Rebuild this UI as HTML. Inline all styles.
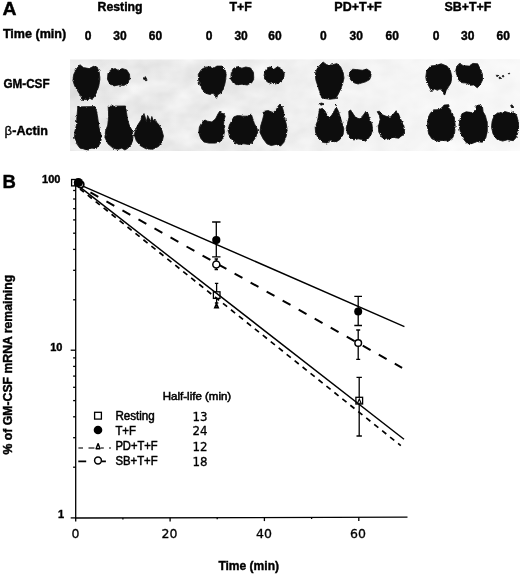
<!DOCTYPE html>
<html><head><meta charset="utf-8"><title>Figure</title>
<style>
html,body{margin:0;padding:0;background:#fff;}
body{width:520px;height:574px;overflow:hidden;font-family:"Liberation Sans",sans-serif;}
svg{display:block;}
text{font-family:"Liberation Sans",sans-serif;fill:#000;stroke:#000;stroke-width:0.35;}
.b{font-weight:bold;stroke-width:0.4;}
.d{font-family:"DejaVu Sans","Liberation Sans",sans-serif;stroke-width:0.3;}
.l{stroke-width:0.5;}
</style></head><body>
<svg width="520" height="574" viewBox="0 0 520 574">
<defs>
<linearGradient id="bg" x1="0" x2="1" y1="0" y2="0">
<stop offset="0" stop-color="#ebebeb"/><stop offset="0.45" stop-color="#f0f0f0"/><stop offset="0.75" stop-color="#f6f6f6"/><stop offset="1" stop-color="#f8f8f8"/>
</linearGradient>
<filter id="mott" x="0" y="0" width="100%" height="100%" color-interpolation-filters="sRGB"><feTurbulence type="fractalNoise" baseFrequency="0.035 0.05" numOctaves="3" seed="11"/><feColorMatrix type="matrix" values="0.14 0 0 0 0.845  0.14 0 0 0 0.845  0.14 0 0 0 0.845  0 0 0 0 1"/><feComposite operator="in" in2="SourceGraphic"/></filter>
<linearGradient id="fade" x1="0" x2="1" y1="0" y2="0"><stop offset="0" stop-color="#fff" stop-opacity="0"/><stop offset="0.4" stop-color="#fff" stop-opacity="0.15"/><stop offset="0.75" stop-color="#fff" stop-opacity="0.55"/><stop offset="1" stop-color="#fff" stop-opacity="0.65"/></linearGradient>
<filter id="soft" x="-2%" y="-5%" width="104%" height="110%"><feTurbulence type="fractalNoise" baseFrequency="0.35" numOctaves="2" seed="7" result="n"/><feDisplacementMap in="SourceGraphic" in2="n" scale="2.6" xChannelSelector="R" yChannelSelector="G"/><feGaussianBlur stdDeviation="0.4"/></filter>
</defs>
<rect width="520" height="574" fill="#fff"/>

<rect x="70" y="59.5" width="450" height="91.5" fill="#eaeaea" filter="url(#mott)"/>
<rect x="70" y="59.5" width="450" height="91.5" fill="url(#fade)"/>
<g fill="#0a0a0a" stroke="#0a0a0a" stroke-width="0.8" stroke-linejoin="round" filter="url(#soft)">
<path d="M73.8 74.3 L76.7 68.6 L79.9 64.7 L83.4 67.6 L89.2 68.6 L94.0 66.1 L97.2 67.2 L99.3 72.4 L99.9 79.2 L98.8 85.9 L96.8 91.7 L94.5 96.5 L92.0 99.3 L89.5 98.2 L87.2 100.9 L84.9 99.1 L83.0 100.9 L80.5 95.5 L77.6 90.7 L74.7 85.9 L72.8 80.1Z"/>
<path d="M108.0 73.4 L110.7 69.9 L115.1 68.6 L118.4 70.5 L122.2 68.6 L126.7 69.9 L129.5 74.3 L129.9 79.2 L128.0 83.0 L123.8 85.5 L118.4 84.9 L114.2 85.9 L109.9 84.0 L107.4 79.2Z"/>
<path d="M145.3 76.6 L147.0 79.6 L143.8 79.6Z"/>
<path d="M77.8 106.9 L94.9 106.5 L97.0 112.5 L98.0 120.0 L99.0 127.5 L100.8 133.8 L101.1 140.0 L99.2 145.0 L96.1 148.8 L91.8 148.1 L88.6 150.0 L84.2 149.4 L79.9 148.1 L76.8 143.8 L74.5 137.5 L74.9 131.2 L76.5 125.0 L77.0 116.2Z"/>
<path d="M108.2 106.2 L125.5 106.0 L126.5 112.5 L127.4 118.8 L129.2 125.0 L132.4 131.2 L133.0 137.5 L131.8 143.8 L128.0 148.1 L124.9 150.0 L121.8 148.1 L118.0 149.4 L113.0 148.1 L108.0 143.8 L104.9 137.5 L105.5 131.2 L107.8 125.0 L108.6 116.2Z"/>
<path d="M142.0 115.7 L144.0 113.6 L145.3 117.6 L146.5 121.5 L147.6 115.5 L149.2 118.6 L150.3 122.5 L151.8 116.5 L153.4 121.0 L154.9 119.0 L156.8 122.4 L159.3 125.3 L161.8 130.1 L163.4 135.9 L162.2 141.7 L158.4 146.5 L152.6 149.3 L145.9 148.8 L140.1 145.5 L136.3 140.7 L134.3 134.9 L135.7 129.2 L138.2 124.3 L140.7 120.5Z"/>
<path d="M201.5 69.5 L205.4 67.2 L211.2 66.7 L214.0 68.0 L216.9 66.1 L221.7 66.1 L224.6 68.6 L226.2 73.4 L225.8 79.2 L224.6 84.9 L222.7 89.7 L220.8 93.6 L217.9 94.5 L216.5 98.3 L214.6 95.5 L213.1 92.6 L210.2 94.5 L206.0 93.4 L202.6 90.0 L200.2 85.5 L198.6 80.3 L198.3 74.3Z"/>
<path d="M231.3 72.4 L233.3 68.6 L237.1 66.7 L241.9 68.2 L245.8 67.0 L250.6 68.0 L253.5 72.4 L253.8 79.2 L251.5 83.0 L246.7 84.9 L241.9 84.2 L237.1 84.9 L233.3 83.0 L230.8 79.2Z"/>
<path d="M264.6 72.4 L266.9 68.0 L270.8 66.7 L273.7 69.6 L277.5 66.7 L281.3 68.6 L284.2 73.4 L283.8 78.2 L280.4 82.0 L275.6 84.0 L271.7 82.0 L268.8 83.0 L265.4 80.1 L264.0 76.3Z"/>
<path d="M205.0 120.0 L207.5 121.2 L211.9 121.9 L215.6 118.8 L218.1 113.8 L219.8 111.2 L221.2 113.1 L223.8 113.8 L225.2 116.2 L224.0 120.0 L223.5 125.0 L224.4 131.2 L223.5 137.5 L220.0 141.9 L215.0 143.1 L208.8 143.1 L203.8 141.9 L200.6 138.1 L198.8 132.5 L199.4 126.9 L201.9 122.5Z"/>
<path d="M233.8 116.9 L237.5 115.6 L242.5 116.2 L247.5 116.2 L251.2 114.0 L252.8 118.8 L254.4 123.8 L256.9 128.1 L257.8 131.9 L255.6 137.5 L252.5 141.9 L248.8 144.4 L243.8 143.8 L238.8 144.4 L233.8 141.9 L230.0 136.9 L228.1 130.6 L229.4 125.0 L231.9 120.6Z"/>
<path d="M264.4 111.2 L268.1 110.6 L273.1 112.5 L276.2 110.0 L278.1 106.2 L280.0 104.0 L281.9 106.2 L283.5 111.2 L284.4 117.5 L286.2 123.8 L287.2 130.0 L286.2 136.2 L283.8 142.5 L280.6 146.0 L276.2 144.4 L271.2 145.6 L266.9 143.8 L263.1 138.8 L260.0 132.5 L260.6 126.2 L262.5 120.0 L263.8 115.0Z"/>
<path d="M319.4 65.5 L323.1 62.0 L326.9 64.9 L331.9 64.9 L336.9 63.6 L340.6 66.8 L343.1 72.4 L344.0 78.0 L342.5 84.2 L340.0 90.5 L337.5 95.5 L335.6 98.6 L330.0 99.2 L325.0 98.6 L321.9 98.0 L320.0 93.0 L318.1 86.8 L316.0 80.5 L315.2 74.2 L316.9 69.2Z"/>
<path d="M349.8 72.4 L352.6 69.2 L357.5 69.7 L362.5 70.3 L366.9 69.0 L370.4 71.5 L371.2 75.5 L369.6 79.6 L365.6 81.8 L361.6 83.0 L358.1 84.0 L354.2 82.8 L350.9 80.2 L349.2 76.1Z"/>
<path d="M320.6 109.0 L322.4 108.3 L325.0 111.0 L326.9 115.0 L329.4 117.5 L331.9 115.0 L334.4 110.5 L336.2 107.0 L338.1 110.5 L340.0 116.2 L341.9 122.5 L343.8 128.8 L343.1 134.4 L340.0 139.4 L336.2 141.9 L331.2 141.2 L326.2 143.1 L321.9 141.9 L318.1 138.1 L315.6 132.5 L315.2 126.9 L317.5 121.2 L318.5 115.0 L319.4 108.8Z"/>
<path d="M348.8 111.2 L350.6 110.0 L353.1 113.8 L355.6 117.5 L359.4 118.8 L362.5 116.2 L366.2 111.0 L368.1 113.8 L369.4 118.8 L371.9 123.8 L372.5 129.4 L371.2 134.4 L368.1 138.8 L365.6 141.2 L361.9 139.4 L358.1 138.8 L353.8 140.0 L350.0 137.5 L347.2 133.1 L346.2 128.1 L347.5 123.1 L349.0 117.5Z"/>
<path d="M377.2 111.7 L379.4 111.2 L381.9 114.6 L386.1 116.3 L390.3 117.1 L393.7 113.7 L396.2 110.7 L398.4 113.7 L400.5 118.8 L403.5 124.7 L404.7 129.8 L403.0 134.9 L398.8 138.2 L392.9 137.4 L387.0 139.4 L381.9 137.4 L378.9 132.3 L378.2 125.6 L380.2 119.7 L379.4 115.4Z"/>
<path d="M425.8 77.2 L426.7 70.5 L430.6 66.1 L436.3 65.3 L441.2 63.8 L446.9 66.1 L450.4 70.5 L451.9 77.2 L450.8 83.0 L448.5 86.8 L446.0 90.7 L444.6 95.5 L442.7 91.7 L440.2 88.8 L437.3 90.3 L434.4 88.8 L431.9 91.7 L429.2 86.8 L426.7 82.0Z"/>
<path d="M456.5 66.7 L459.4 63.4 L463.3 65.7 L469.0 66.1 L472.9 63.4 L477.7 63.8 L480.0 68.6 L482.5 74.3 L482.5 80.1 L480.0 84.9 L477.3 87.8 L473.8 84.9 L470.0 85.3 L466.2 83.0 L461.3 82.6 L458.1 79.2 L456.5 74.3 L455.8 69.5Z"/>
<path d="M428.1 117.6 L430.6 112.8 L434.4 109.9 L439.2 109.5 L442.7 107.0 L444.0 105.1 L448.8 104.7 L449.2 108.4 L451.7 111.8 L454.2 117.6 L455.2 125.3 L454.6 133.0 L452.7 137.8 L448.8 141.1 L443.1 140.3 L437.3 141.1 L431.9 138.8 L428.7 134.0 L427.3 126.3Z"/>
<path d="M460.0 119.5 L461.9 113.8 L466.2 111.8 L471.9 112.6 L475.8 109.9 L476.2 106.1 L480.0 104.5 L482.5 107.0 L483.1 111.8 L485.4 115.7 L487.3 123.4 L487.3 131.1 L485.8 137.8 L482.5 142.2 L476.7 141.7 L471.9 143.6 L467.1 143.6 L463.3 138.8 L460.4 132.0 L459.0 125.3Z"/>
<path d="M492.1 121.5 L494.0 115.7 L497.9 112.8 L501.7 113.8 L504.6 111.5 L509.4 112.8 L513.8 111.8 L516.7 115.7 L518.5 122.4 L518.5 130.1 L516.7 136.8 L513.3 140.7 L507.5 139.7 L502.7 141.1 L496.9 139.3 L493.1 134.0 L491.5 127.2Z"/>
<circle cx="497.2" cy="75.7" r="0.8"/>
<circle cx="499.8" cy="77.9" r="0.8"/>
<circle cx="503.1" cy="76.2" r="0.8"/>
<circle cx="509.0" cy="73.5" r="0.6"/>
<circle cx="511.6" cy="105.8" r="0.9"/>
<circle cx="512.6" cy="107.2" r="1.0"/>
<circle cx="321.2" cy="104.1" r="1.1"/>
<circle cx="322.9" cy="104.0" r="0.8"/>
<circle cx="335.6" cy="105.5" r="0.7"/>
</g>
<text x="2.6" y="15.4" font-size="18" textLength="14.0" lengthAdjust="spacingAndGlyphs" class="b">A</text>
<text x="2.9" y="38.2" font-size="12" textLength="63.3" lengthAdjust="spacingAndGlyphs" class="b">Time (min)</text>
<text x="97.6" y="10.8" font-size="12" textLength="45.0" lengthAdjust="spacingAndGlyphs" class="b">Resting</text>
<text x="229.4" y="10.8" font-size="12" textLength="22.3" lengthAdjust="spacingAndGlyphs" class="b">T+F</text>
<text x="334.3" y="10.8" font-size="12" textLength="47.4" lengthAdjust="spacingAndGlyphs" class="b">PD+T+F</text>
<text x="444.6" y="10.8" font-size="12" textLength="46.8" lengthAdjust="spacingAndGlyphs" class="b">SB+T+F</text>
<text x="88.1" y="39.9" font-size="12" text-anchor="middle" class="b">0</text>
<text x="119.9" y="39.9" font-size="12" text-anchor="middle" class="b">30</text>
<text x="155.4" y="39.9" font-size="12" text-anchor="middle" class="b">60</text>
<text x="209.2" y="39.9" font-size="12" text-anchor="middle" class="b">0</text>
<text x="241.1" y="39.9" font-size="12" text-anchor="middle" class="b">30</text>
<text x="274.9" y="39.9" font-size="12" text-anchor="middle" class="b">60</text>
<text x="323.3" y="39.9" font-size="12" text-anchor="middle" class="b">0</text>
<text x="356.3" y="39.9" font-size="12" text-anchor="middle" class="b">30</text>
<text x="392.3" y="39.9" font-size="12" text-anchor="middle" class="b">60</text>
<text x="436.1" y="39.9" font-size="12" text-anchor="middle" class="b">0</text>
<text x="467.8" y="39.9" font-size="12" text-anchor="middle" class="b">30</text>
<text x="503.3" y="39.9" font-size="12" text-anchor="middle" class="b">60</text>
<text x="3.4" y="87.5" font-size="12" textLength="46.2" lengthAdjust="spacingAndGlyphs" class="b">GM-CSF</text>
<text x="4.6" y="134.6" font-size="13">β</text>
<text x="12.3" y="134.6" font-size="12" textLength="35.6" lengthAdjust="spacingAndGlyphs" class="b">-Actin</text>
<text x="2.6" y="187.5" font-size="18.5" class="b">B</text>
<text x="60.4" y="183.2" font-size="11" text-anchor="end" class="b">100</text>
<text x="62.4" y="350.6" font-size="11" text-anchor="end" class="b">10</text>
<text x="64.0" y="518.2" font-size="11" text-anchor="end" class="b">1</text>
<text transform="translate(11.5,454.4) rotate(-90)" font-size="12" class="b" textLength="179.6" lengthAdjust="spacingAndGlyphs">% of GM-CSF mRNA remaining</text>
<text x="218.4" y="570.0" font-size="12" textLength="60.6" lengthAdjust="spacingAndGlyphs" class="b">Time (min)</text>
<text x="75.6" y="538.0" font-size="12.5" text-anchor="middle" class="d">0</text>
<text x="169.5" y="538.0" font-size="12.5" text-anchor="middle" class="d">20</text>
<text x="264.0" y="538.0" font-size="12.5" text-anchor="middle" class="d">40</text>
<text x="358.0" y="538.0" font-size="12.5" text-anchor="middle" class="d">60</text>
<g stroke="#000" stroke-width="1.3" fill="none">
<path d="M75.7 181.8 V518 L407.5 517.2"/>
<path d="M75.7 190.5 h-2.6"/>
<path d="M75.7 199.0 h-2.6"/>
<path d="M75.7 208.7 h-2.6"/>
<path d="M75.7 219.9 h-2.6"/>
<path d="M75.7 233.2 h-2.6"/>
<path d="M75.7 249.4 h-2.6"/>
<path d="M75.7 270.3 h-2.6"/>
<path d="M75.7 299.8 h-2.6"/>
<path d="M75.7 357.9 h-2.6"/>
<path d="M75.7 366.4 h-2.6"/>
<path d="M75.7 376.1 h-2.6"/>
<path d="M75.7 387.3 h-2.6"/>
<path d="M75.7 400.6 h-2.6"/>
<path d="M75.7 416.8 h-2.6"/>
<path d="M75.7 437.7 h-2.6"/>
<path d="M75.7 467.2 h-2.6"/>
<path d="M75.7 350.2 h-5"/>
<path d="M75.7 517.9 h-5"/>
<path d="M75.7 518.0 v3.6"/>
<path d="M122.9 517.9 v1.6"/>
<path d="M170.1 517.8 v3.6"/>
<path d="M217.2 517.7 v1.6"/>
<path d="M264.4 517.5 v3.6"/>
<path d="M311.6 517.4 v1.6"/>
<path d="M358.8 517.3 v3.6"/>
</g>
<path d="M216.3 222.0 V256.9 M212.1 222.0 h8.4 M212.1 256.9 h8.4" stroke="#000" stroke-width="1.3" fill="none"/>
<path d="M216.3 259.0 V269.6 M214.6 259.0 h3.4 M214.6 269.6 h3.4" stroke="#000" stroke-width="1.3" fill="none"/>
<path d="M216.6 283.4 V303.0 M214.9 283.4 h3.4 M214.9 303.0 h3.4" stroke="#000" stroke-width="1.3" fill="none"/>
<path d="M358.2 296.4 V325.5 M354.3 296.4 h7.7 M354.3 325.5 h7.7" stroke="#000" stroke-width="1.3" fill="none"/>
<path d="M358.2 330.0 V359.3 M356.2 330.0 h4.0 M356.2 359.3 h4.0" stroke="#000" stroke-width="1.3" fill="none"/>
<path d="M359.2 377.3 V436.0 M356.5 377.3 h5.4 M356.5 436.0 h5.4" stroke="#000" stroke-width="1.3" fill="none"/>
<rect x="71.6" y="179.5" width="6.4" height="6.4" fill="#fff" stroke="#000" stroke-width="1.3"/>
<rect x="213.4" y="291.8" width="6.6" height="6.6" fill="#fff" stroke="#000" stroke-width="1.3"/>
<rect x="355.9" y="397.3" width="6.7" height="6.7" fill="#fff" stroke="#000" stroke-width="1.3"/>
<g stroke="#000" fill="none" stroke-linecap="butt">
<path d="M80 184.9 L404.4 326.6" stroke-width="1.45"/>
<path d="M80 187.1 L404 439.2" stroke-width="1.45"/>
<path d="M84 188.8 L402.1 367.8" stroke-width="2.0" stroke-dasharray="9 9.38" stroke-dashoffset="11.0"/>
<path d="M80 189 L400.8 445.6" stroke-width="1.7" stroke-dasharray="5.3 4.89" stroke-dashoffset="0.3"/>
</g>
<path d="M76.5 180.9 L78.5 185.1 L74.5 185.1 Z" fill="#fff" stroke="#000" stroke-width="1.3" stroke-linejoin="miter"/>
<circle cx="80.6" cy="184.6" r="3.2" fill="#fff" stroke="#000" stroke-width="1.7"/>
<circle cx="78.4" cy="182.5" r="4.6" fill="#000"/>
<circle cx="216.3" cy="240.1" r="4.1" fill="#000"/>
<circle cx="216.3" cy="264.5" r="3.5" fill="#fff" stroke="#000" stroke-width="1.5"/>
<path d="M216.5 303.8 L218.2 307.6 L214.8 307.6 Z" fill="#888" stroke="#000" stroke-width="1.6" stroke-linejoin="miter"/>
<circle cx="358.2" cy="311.5" r="4.0" fill="#000"/>
<circle cx="358.2" cy="343.0" r="3.3" fill="#fff" stroke="#000" stroke-width="1.5"/>
<path d="M359.3 399.0 L361.1 403.2 L357.5 403.2 Z" fill="#fff" stroke="#000" stroke-width="1.1" stroke-linejoin="miter"/>
<rect x="94.6" y="412.3" width="6.8" height="6.8" fill="#fff" stroke="#000" stroke-width="1.3"/>
<circle cx="98.0" cy="430.0" r="4.3" fill="#000"/>
<path d="M78.4 448 H83 M88.5 448 H94.4 M100.8 448 H103.8 M109.1 448 H110.9" stroke="#444" stroke-width="1.3" fill="none"/>
<path d="M98.1 443.6 L100.0 448.7 L96.1 448.7 Z" fill="#fff" stroke="#000" stroke-width="1.4" stroke-linejoin="round"/>
<path d="M78.3 461.4 H86.2 M101.5 461.4 H105.9" stroke="#000" stroke-width="1.6" fill="none"/>
<circle cx="98.0" cy="460.5" r="3.4" fill="#fff" stroke="#000" stroke-width="1.5"/>
<text x="115.4" y="419.6" font-size="12" textLength="39.4" lengthAdjust="spacingAndGlyphs" class="l">Resting</text>
<text x="115.4" y="434.6" font-size="12" textLength="20.5" lengthAdjust="spacingAndGlyphs" class="l">T+F</text>
<text x="115.4" y="450.0" font-size="12" textLength="42.2" lengthAdjust="spacingAndGlyphs" class="l">PD+T+F</text>
<text x="115.4" y="464.8" font-size="12" textLength="42.2" lengthAdjust="spacingAndGlyphs" class="l">SB+T+F</text>
<text x="162.8" y="400.2" font-size="10.5" textLength="68.4" lengthAdjust="spacingAndGlyphs" class="l">Half-life (min)</text>
<text x="200.0" y="420.5" font-size="11.8" text-anchor="middle" class="d">13</text>
<text x="200.0" y="434.8" font-size="11.8" text-anchor="middle" class="d">24</text>
<text x="200.0" y="450.8" font-size="11.8" text-anchor="middle" class="d">12</text>
<text x="200.0" y="466.3" font-size="11.8" text-anchor="middle" class="d">18</text>
</svg>
</body></html>
